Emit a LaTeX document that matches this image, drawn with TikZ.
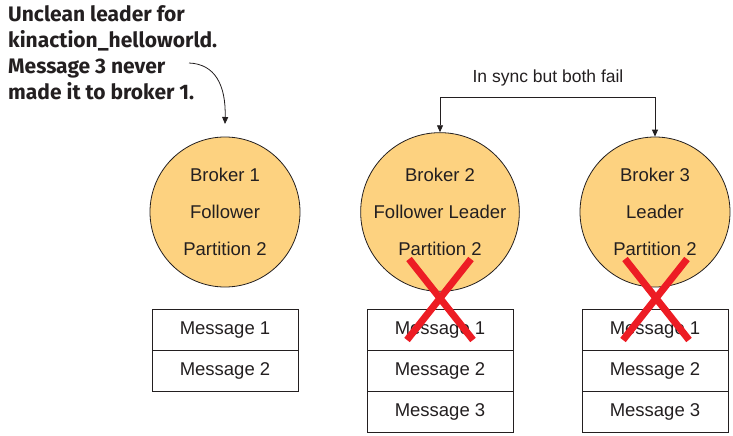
\documentclass[tikz,border=0pt]{standalone}
\usepackage{fontspec}
\setmainfont{Liberation Sans}
\newfontfamily\titlefont{Fira Sans}
\usetikzlibrary{arrows.meta}
\definecolor{brokerfill}{RGB}{253,210,128}
\definecolor{xred}{RGB}{237,28,36}
\definecolor{txt}{RGB}{35,31,32}
\begin{document}
\begin{tikzpicture}[x=1pt,y=-1pt,
  broker/.style={circle,draw=txt,line width=0.8pt,fill=brokerfill,minimum size=150pt,inner sep=0pt,
    font=\fontsize{18.5}{37}\selectfont,text=txt,align=center},
  msg/.style={draw=txt,line width=0.8pt,minimum width=146pt,minimum height=41pt,inner sep=0pt,
    font=\fontsize{18.5}{20}\selectfont,text=txt,outer sep=0pt},
  xmark/.style={xred,line width=7pt},
  conn/.style={-{Triangle[length=7pt,width=6pt]},line width=0.8pt,draw=txt}]
\useasboundingbox (0,0) rectangle (733,436);
% title
\node[anchor=north west,align=left,inner sep=0pt,text=txt,
  font=\titlefont\bfseries\fontsize{21}{26}\selectfont] (title) at (8,5)
  {Unclean leader for\\kinaction\_helloworld.\\Message 3 never\\made it to broker 1.};
% brokers
\node[broker] (b1) at (225,212) {Broker 1\\Follower\\Partition 2};
\node[broker] (b2) at (440,212) {Broker 2\\Follower Leader\\Partition 2};
\node[broker] (b3) at (655,212) {Broker 3\\Leader\\Partition 2};
% messages
\node[msg] (m11) at (225,330) {Message 1};
\node[msg,anchor=north] (m12) at (m11.south) {Message 2};
\node[msg] (m21) at (440,330) {Message 1};
\node[msg,anchor=north] (m22) at (m21.south) {Message 2};
\node[msg,anchor=north] (m23) at (m22.south) {Message 3};
\node[msg] (m31) at (655,330) {Message 1};
\node[msg,anchor=north] (m32) at (m31.south) {Message 2};
\node[msg,anchor=north] (m33) at (m32.south) {Message 3};
% red X marks
\draw[xmark] (409,259) -- (473,340) (471,259) -- (407,340);
\draw[xmark] (625,259) -- (689,340) (687,259) -- (623,340);
% sync arrow
\coordinate (s2) at (440,97);
\coordinate (s3) at (655,97);
\draw[conn] (s2) -- (s3) -- (b3.north);
\draw[conn] (s3) -- (s2) -- (b2.north);
\node[font=\fontsize{17.5}{20}\selectfont,text=txt] (sync) at (548,78) {In sync but both fail};
% curved arrow
\coordinate (cstart) at (189,63);
\coordinate (cend) at (225,124);
\draw[conn] (cstart) .. controls (215,64) and (226,85) .. (cend);
\end{tikzpicture}
\end{document}
